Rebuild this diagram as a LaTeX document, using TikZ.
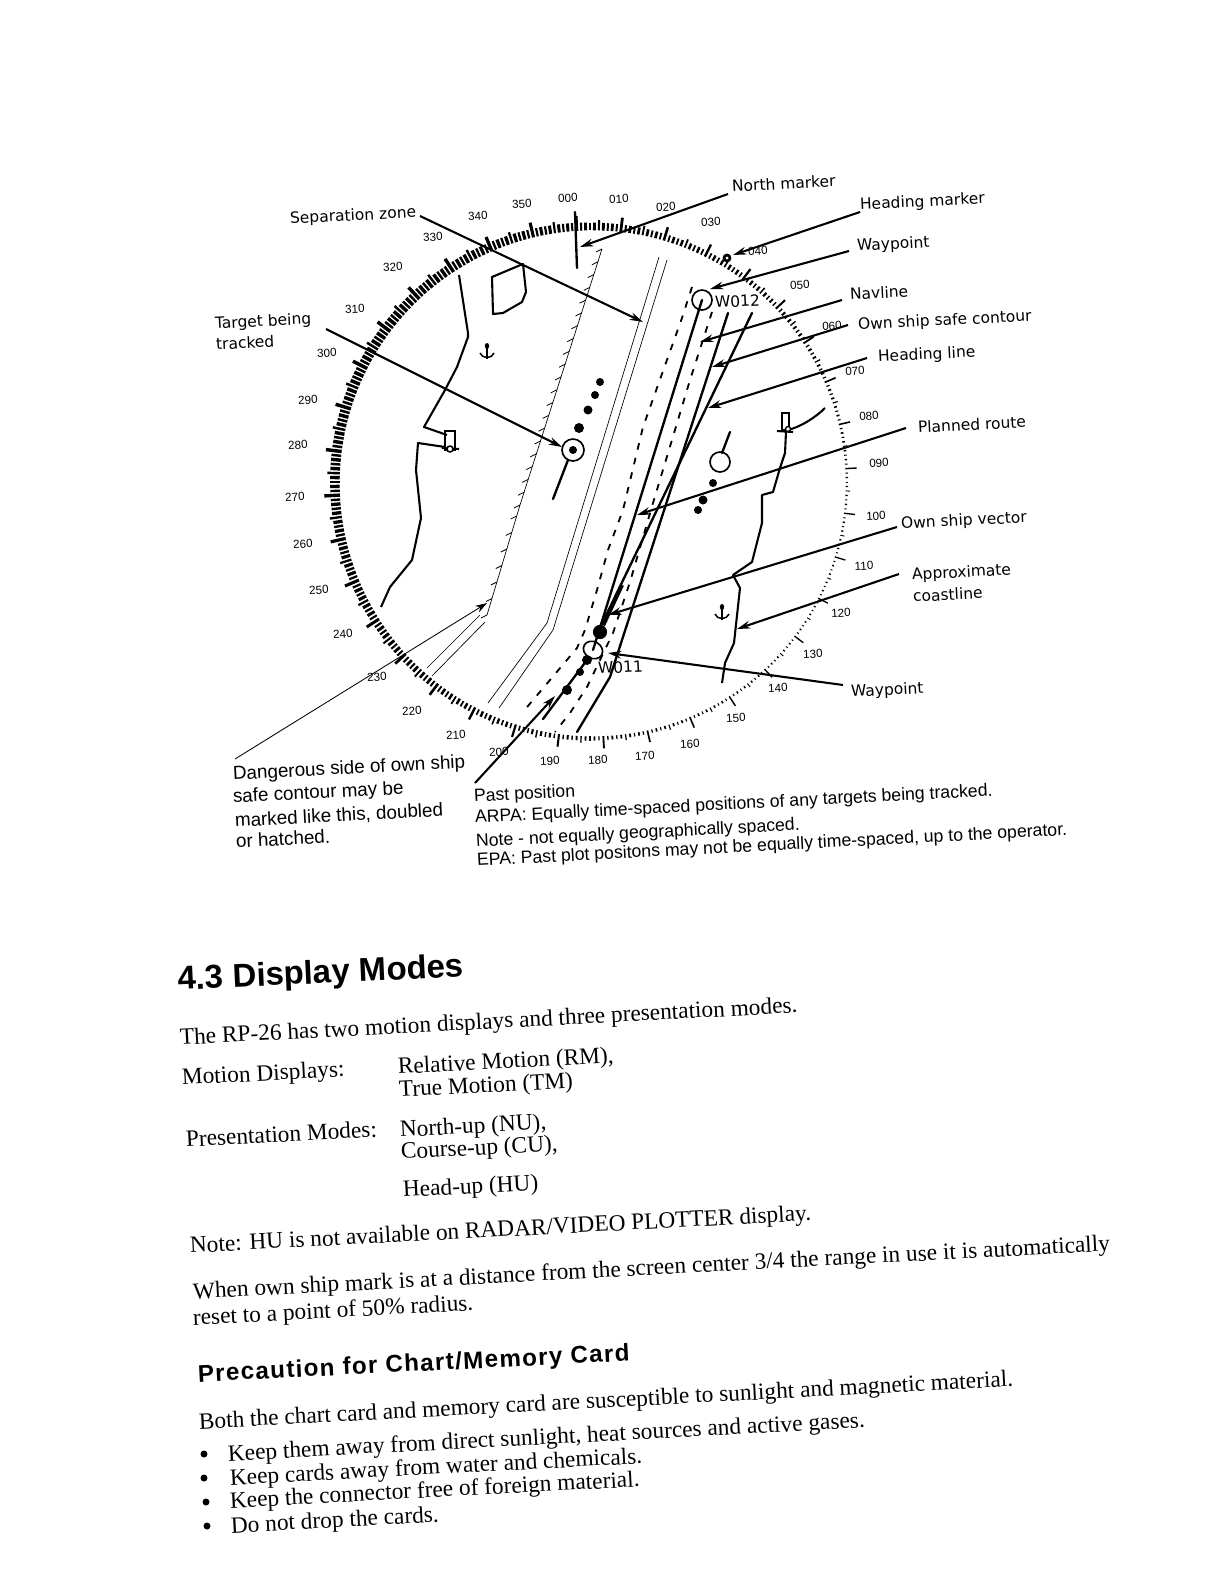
\documentclass[tikz,border=0pt]{standalone}
\usepackage{fontspec}
\setmainfont{Liberation Serif}
\newfontfamily\labfont{DejaVu Sans}
\newfontfamily\arfont{Liberation Sans}
\usetikzlibrary{arrows.meta,calc,shapes.geometric}
\tikzset{
  bold/.style={line width=1.4pt,line cap=round,line join=round},
  coast/.style={line width=1.25pt,line join=round},
  thinl/.style={line width=0.4pt},
  leader/.style={line width=1.25pt,-{Stealth[length=8pt,width=4.6pt]}},
  contour/.style={line width=1.1pt,dash pattern=on 4pt off 5pt},
  lbl/.style={anchor=base west,rotate=3,inner sep=0pt,font=\labfont\fontsize{9.3}{11}\selectfont},
  arl/.style={anchor=base west,rotate=3,inner sep=0pt,font=\arfont\fontsize{10.6}{12}\selectfont},
  dgr/.style={anchor=base west,rotate=3,inner sep=0pt,font=\arfont\fontsize{11.3}{13}\selectfont},
  deg/.style={anchor=center,rotate=3,inner sep=0pt,font=\arfont\fontsize{7}{8}\selectfont},
  txt/.style={anchor=base west,rotate=3,inner sep=0pt,font=\fontsize{14}{16}\selectfont},
  hatchtick/.style={line width=0.5pt},
  dotf/.style={fill=black,draw=none}
}
\newcommand{\anchormark}[1]{%
 \begin{scope}[shift={#1}]
  \fill (0,-6) ellipse (2.2 and 3);
  \draw[line width=0.9pt] (0,-6) -- (0,7);
  \draw[line width=0.9pt] (-7,1) .. controls (-5,7) and (5,7) .. (7,1);
 \end{scope}}
\begin{document}
\begin{tikzpicture}[x=0.6pt,y=-0.6pt]
\useasboundingbox (0,0) rectangle (1224,1584);
\fill[white] (0,0) rectangle (1224,1584);
% compass ring
\foreach \b in {0,...,359}{
  \pgfmathsetmacro{\th}{\b-3}
  \pgfmathsetmacro{\f}{0.5*(1+cos(\b-300))}
  \pgfmathsetmacro{\ri}{250+6*(1-\f)}
  \pgfmathtruncatemacro{\mten}{mod(\b,10)}
  \pgfmathtruncatemacro{\mfive}{mod(\b,5)}
  \pgfmathtruncatemacro{\mtwo}{mod(\b,2)}
  \pgfmathsetmacro{\ro}{\ri+(\mten==0 ? 11+5*\f : (\mfive==0 ? 4+9*\f : 2+8*\f))}
  \pgfmathsetmacro{\w}{0.6*(\mtwo==0 ? 1.3+2.2*\f : 0.9+1.6*\f)}
  \draw[line width=\w pt] ({590+\ri*sin(\th)},{482-\ri*cos(\th)}) -- ({590+\ro*sin(\th)},{482-\ro*cos(\th)});
}
% bearing labels
\foreach \t/\x/\y in {000/568/198,350/522/204,340/478/216,330/433/237,320/393/267,310/355/309,300/327/353,290/308/400,280/298/445,270/295/497,260/303/544,250/319/590,240/343/634,230/377/677,220/412/711,210/456/735,200/499/752,190/550/761,180/598/760,170/645/756,160/690/744,150/736/718,140/778/688,130/813/654,120/841/613,110/864/566,100/876/516,090/879/463,080/869/416,070/855/371,060/832/326,050/800/285,040/758/251,030/711/222,020/666/207,010/619/199}{
  \node[deg] (b\t) at (\x,\y) {\t};
}
% land
\draw[coast] (459,275) -- (468,333) -- (468,337) -- (457,367) -- (445,390) -- (424,427) -- (447,435);
\draw[coast] (445,447) -- (418,443) -- (416,470) -- (421,518) -- (412,560) -- (390,587) -- (381,607);
\draw[line width=1pt] (445,431) rectangle (455,450);
\draw[coast] (442,448) -- (459,449);
\draw[line width=0.9pt,fill=white] (450,449) circle (3);
\draw[coast] (523,264) -- (492,277) -- (493,314) -- (503,313) -- (522,302) -- (526,292) -- cycle;
\anchormark{(487,352)}
\anchormark{(722,613)}
\draw[line width=1pt] (782,413) rectangle (789,430);
\draw[coast] (777,431) -- (793,432);
\draw[coast] (788,430) .. controls (800,427) and (815,418) .. (825,408);
\draw[coast] (786,432) -- (785,453) -- (780,468) -- (773,492) -- (762,495) -- (762,523) -- (752,562) -- (733,575) -- (740,588) -- (734,643) -- (725,663) -- (722,683);
\draw[line width=0.8pt,fill=white] (788,429) circle (2.5);
% hatched danger line
\coordinate (h0) at (602,249);
\coordinate (h1) at (520,505);
\coordinate (h2) at (487,615);
\draw[thinl] (h0) -- (h1) -- (h2);
\foreach \t in {0,0.05,...,1.01}{\draw[hatchtick] ($(h0)!\t!(h1)$) -- ++(-6,3);}
\foreach \t in {0.1,0.25,...,1.01}{\draw[hatchtick] ($(h1)!\t!(h2)$) -- ++(-6,3);}
% separation zone lines
\draw[thinl] (659,257) -- (547,623) -- (488,703);
\draw[thinl] (667,260) -- (553,630) -- (499,708);
\draw[thinl] (427,668) -- (480,615);
\draw[thinl] (432,676) -- (485,622);
% contours
\draw[contour] (692,287) -- (682,318) -- (668,357) -- (643,427) -- (623,510) -- (608,550) -- (597,590) -- (585,630) -- (577,648) -- (550,680) -- (522,713);
\draw[contour] (712,312) -- (690,380) -- (653,503) -- (630,582) -- (613,633) -- (587,687) -- (570,713) -- (555,732);
% waypoints, route
\node[draw,circle,line width=1pt,minimum size=12pt,inner sep=0pt] (w12) at (702,300) {};
\node[draw,ellipse,line width=1pt,minimum width=12pt,minimum height=10pt,inner sep=0pt,rotate=-30] (w11) at (593,650) {};
\draw[bold] (w12.center) -- (w11.center);
\draw[bold] (728,313) -- (610,677) -- (577,732);
\draw[bold] (752,313) -- (599,630);
\node[dotf,circle,minimum size=8.5pt,inner sep=0pt] (own) at (600,632) {};
\draw[line width=2.4pt] (own) -- (622,585);
\draw[bold] (587,660) -- (543,719);
\foreach \x/\y/\r in {587/660/5,580/672/4,567/690/5,579/428/5,588/410/4.5,595/395/4,600/382/4,713/483/4,703/500/4.5,698/510/4}{\fill (\x,\y) circle (\r);}
% target symbols
\draw[line width=1pt] (573,450) circle (11);
\fill (573,450) circle (4);
\draw[bold] (568,460) -- (553,499);
\draw[line width=1pt] (720,462) circle (10);
\draw[bold] (730,432) -- (722,453);
\draw[line width=1.6pt] (727,258) circle (3);
% north marker
\coordinate (nm0) at (575,212);
\coordinate (nm1) at (577,268);
\draw[bold] (nm0) -- (nm1);
% named labels
\node[lbl] (lnorth) at (732,192) {North marker};
\node[lbl] (lhead) at (860,210) {Heading marker};
\node[lbl] (lway) at (857,251) {Waypoint};
\node[lbl] (lnav) at (850,300) {Navline};
\node[lbl] (lsafe) at (858,330) {Own ship safe contour};
\node[lbl] (lhl) at (878,362) {Heading line};
\node[lbl] (lplan) at (918,433) {Planned route};
\node[lbl] (lvec) at (901,529) {Own ship vector};
\node[lbl] (lapp) at (912,580) {Approximate};
\node[lbl] (lcoast) at (913,602) {coastline};
\node[lbl] (lway2) at (851,697) {Waypoint};
\node[lbl] (lsep) at (290,224) {Separation zone};
\node[lbl] (ltar) at (215,329) {Target being};
\node[lbl] (ltrk) at (216,350) {tracked};
\node[lbl] (lw12) at (715,308) {W012};
\node[lbl] (lw11) at (598,674) {W011};
\node[dgr] (d1) at (233,780) {Dangerous side of own ship};
\node[dgr] (d2) at (233,803) {safe contour may be};
\node[dgr] (d3) at (235,827) {marked like this, doubled};
\node[dgr] (d4) at (236,848) {or hatched.};
\node[arl] (p1) at (474,802) {Past position};
\node[arl] (p2) at (475,823) {ARPA: Equally time-spaced positions of any targets being tracked.};
\node[arl] (p3) at (476,847) {Note - not equally geographically spaced.};
\node[arl] (p4) at (477,866) {EPA: Past plot positons may not be equally time-spaced, up to the operator.};
% leader ends
\coordinate (a1s) at (728,194);\coordinate (a1e) at (580,247);
\coordinate (a2s) at (860,212);\coordinate (a2e) at (733,255);
\coordinate (a3s) at (849,251);\coordinate (a3e) at (710,289);
\coordinate (a4s) at (842,300);\coordinate (a4e) at (700,342);
\coordinate (a5s) at (848,325);\coordinate (a5e) at (712,367);
\coordinate (a6s) at (867,358);\coordinate (a6e) at (708,408);
\coordinate (a7s) at (906,428);\coordinate (a7e) at (637,515);
\coordinate (a8s) at (897,527);\coordinate (a8e) at (608,615);
\coordinate (a9s) at (899,574);\coordinate (a9e) at (737,629);
\coordinate (a10s) at (843,685);\coordinate (a10e) at (608,653);
\coordinate (a11s) at (420,216);\coordinate (a11e) at (643,322);
\coordinate (a12s) at (326,329);\coordinate (a12e) at (562,447);
\coordinate (a13s) at (475,783);\coordinate (a13e) at (555,696);
\coordinate (a14s) at (235,759);\coordinate (a14e) at (487,603);
\foreach \i in {1,...,13}{\draw[leader] (a\i s) -- (a\i e);}
\draw[line width=0.5pt,-{Stealth[length=7pt,width=4.5pt]}] (a14s) -- (a14e);
% lower text
\node[anchor=base west,rotate=2.7,inner sep=0pt,font=\arfont\bfseries\fontsize{19.8}{22}\selectfont] (h43) at (178,990) {4.3 Display Modes};
\node[txt] (t1) at (180,1045) {The RP-26 has two motion displays and three presentation modes.};
\node[txt] (t2) at (182,1085) {Motion Displays:};
\node[txt] (t3) at (398,1074) {Relative Motion (RM),};
\node[txt] (t4) at (399,1097) {True Motion (TM)};
\node[txt] (t5) at (186,1147) {Presentation Modes:};
\node[txt] (t6) at (400,1137) {North-up (NU),};
\node[txt] (t7) at (401,1159) {Course-up (CU),};
\node[txt] (t8) at (403,1197) {Head-up (HU)};
\node[txt] (t9) at (190,1253) {Note: HU is not available on RADAR/VIDEO PLOTTER display.};
\node[txt] (t10) at (193,1299) {When own ship mark is at a distance from the screen center 3/4 the range in use it is automatically};
\node[txt] (t11) at (193,1325) {reset to a point of 50\% radius.};
\node[anchor=base west,rotate=2.8,inner sep=0pt,font=\arfont\bfseries\fontsize{14.5}{17}\selectfont\addfontfeatures{LetterSpace=5.5}] (h2) at (198,1382) {Precaution for Chart/Memory Card};
\node[txt] (t12) at (199,1429) {Both the chart card and memory card are susceptible to sunlight and magnetic material.};
\node[txt] (t13) at (228,1461) {Keep them away from direct sunlight, heat sources and active gases.};
\node[txt] (t14) at (230,1485) {Keep cards away from water and chemicals.};
\node[txt] (t15) at (230,1508) {Keep the connector free of foreign material.};
\node[txt] (t16) at (231,1533) {Do not drop the cards.};
\foreach \x/\y in {204/1454,204/1478,206/1502,207/1526}{\fill (\x,\y) circle (3.5);}
\end{tikzpicture}
\end{document}
